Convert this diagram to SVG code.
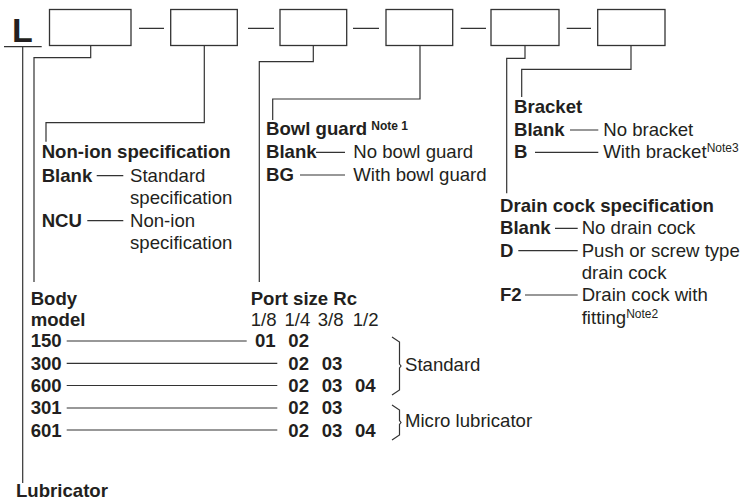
<svg xmlns="http://www.w3.org/2000/svg" width="743" height="501" viewBox="0 0 743 501">
<style>
text{font-family:"Liberation Sans",Arial,sans-serif;font-size:18.6px;fill:#231f20}
.b{font-weight:bold}
.sup{font-size:12px}
.box{fill:#fff;stroke:#333;stroke-width:1.3}
.ln{fill:none;stroke:#333;stroke-width:1.2}
</style>
<rect width="743" height="501" fill="#fff"/>
<g id="prefix">
<text class="b" x="12" y="41.7" style="font-size:34px">L</text>
</g>
<g id="box1"><rect class="box" x="49.5" y="9.5" width="81.5" height="36"/></g>
<g id="box2"><rect class="box" x="170.7" y="9.5" width="66.6" height="36"/></g>
<g id="box3"><rect class="box" x="280" y="9.5" width="66.7" height="36"/></g>
<g id="box4"><rect class="box" x="386" y="9.5" width="66.7" height="36"/></g>
<g id="box5"><rect class="box" x="491" y="9.5" width="68" height="36"/></g>
<g id="box6"><rect class="box" x="597.7" y="9.5" width="67.3" height="36"/></g>
<g id="connectors">
<path class="ln" d="M139,28.3H164M248,28.3H274M353,28.3H379M460.7,28.3H486M566.7,28.3H591"/>
<path class="ln" d="M4,46.7H41.7M22.7,46.7V483"/>
<path class="ln" d="M90.7,45.7V57.7H34V282"/>
<path class="ln" d="M204.3,45.7V122.7H46V141.7"/>
<path class="ln" d="M313.3,45.7V61.7H259.3V282"/>
<path class="ln" d="M420,45.7V99H272.7V120"/>
<path class="ln" d="M525,45.7V58.3H506.7V193.3"/>
<path class="ln" d="M631,45.7V69.3H521.7V97"/>
<path class="ln" d="M96.7,175.7H123.3M87.3,220.7H123.3"/>
<path class="ln" d="M316,152.3H345M300,175H345"/>
<path class="ln" d="M570,130H598.3M535,152.3H598.3"/>
<path class="ln" d="M555,228.3H577.7M518.3,250.7H577.7M525,295H577.7"/>
<path class="ln" d="M66.7,341H246.7M66.7,363.3H277.3M66.7,385.5H277.3M66.7,408H277.3M66.7,430H277.3"/>
<path class="ln" d="M392,337L399.5,342V364L401,366L399.5,368V390L392,395"/>
<path class="ln" d="M392,405L399.5,410V420.5L401,422.5L399.5,424.5V435L392,440"/>
</g>
<g id="nonion">
<text class="b" x="41.7" y="158.3">Non-ion specification</text>
<text class="b" x="41.7" y="181.7">Blank</text>
<text x="130" y="181.7">Standard</text>
<text x="130" y="204.3">specification</text>
<text class="b" x="41.7" y="226.7">NCU</text>
<text x="130" y="226.7">Non-ion</text>
<text x="130" y="249.3">specification</text>
</g>
<g id="bowlguard">
<text class="b" x="266" y="135">Bowl guard<tspan class="sup" dx="4" dy="-5">Note 1</tspan></text>
<text class="b" x="266" y="158.3">Blank</text>
<text x="353.3" y="158.3">No bowl guard</text>
<text class="b" x="266" y="181">BG</text>
<text x="353.3" y="181">With bowl guard</text>
</g>
<g id="bracket">
<text class="b" x="514" y="112.7">Bracket</text>
<text class="b" x="514" y="136">Blank</text>
<text x="603.3" y="136">No bracket</text>
<text class="b" x="514" y="158.3">B</text>
<text x="603.3" y="158.3">With bracket<tspan class="sup" dy="-6">Note3</tspan></text>
</g>
<g id="draincock">
<text class="b" x="500" y="211.7">Drain cock specification</text>
<text class="b" x="500" y="234.3">Blank</text>
<text x="581.7" y="234.3">No drain cock</text>
<text class="b" x="500" y="256.7">D</text>
<text x="581.7" y="256.7">Push or screw type</text>
<text x="581.7" y="279">drain cock</text>
<text class="b" x="500" y="301">F2</text>
<text x="581.7" y="301">Drain cock with</text>
<text x="581.7" y="323.5">fitting<tspan class="sup" dy="-6">Note2</tspan></text>
</g>
<g id="bodymodel">
<text class="b" x="30.7" y="305">Body</text>
<text class="b" x="30.7" y="325.5">model</text>
<text class="b" x="30.7" y="347">150</text>
<text class="b" x="30.7" y="369.5">300</text>
<text class="b" x="30.7" y="392">600</text>
<text class="b" x="30.7" y="414">301</text>
<text class="b" x="30.7" y="436.5">601</text>
</g>
<g id="portsize">
<text class="b" x="250.7" y="305">Port size Rc</text>
<text x="250.7" y="325.5">1/8</text>
<text x="284.5" y="325.5">1/4</text>
<text x="317.7" y="325.5">3/8</text>
<text x="352.7" y="325.5">1/2</text>
<text class="b" x="255" y="347">01</text>
<text class="b" x="288.3" y="347">02</text>
<text class="b" x="288.3" y="369.5">02</text>
<text class="b" x="321.7" y="369.5">03</text>
<text class="b" x="288.3" y="392">02</text>
<text class="b" x="321.7" y="392">03</text>
<text class="b" x="355" y="392">04</text>
<text class="b" x="288.3" y="414">02</text>
<text class="b" x="321.7" y="414">03</text>
<text class="b" x="288.3" y="436.5">02</text>
<text class="b" x="321.7" y="436.5">03</text>
<text class="b" x="355" y="436.5">04</text>
</g>
<g id="groups">
<text x="405" y="370.7">Standard</text>
<text x="405" y="426.7">Micro lubricator</text>
</g>
<g id="lubricator">
<text class="b" x="16" y="497">Lubricator</text>
</g>
</svg>
